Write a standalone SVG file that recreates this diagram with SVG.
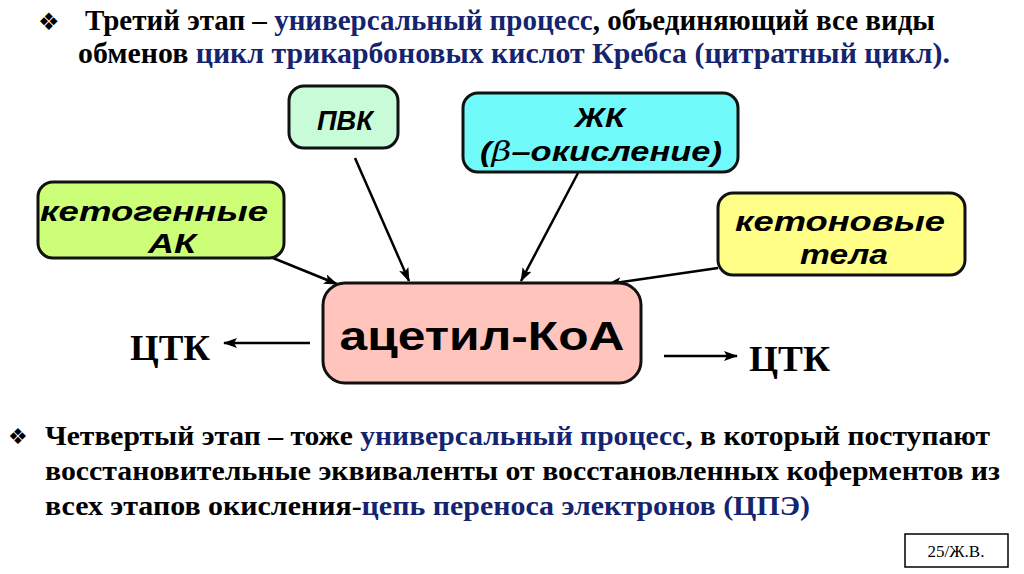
<svg xmlns="http://www.w3.org/2000/svg" width="1024" height="574" viewBox="0 0 1024 574">
<style>
.t{font-family:"Liberation Serif","Times New Roman","DejaVu Serif",serif;font-weight:bold;fill:#000}
.b{fill:#14246e}
.n{font-family:"Liberation Sans",Arial,sans-serif;font-weight:bold;font-style:italic;fill:#000;text-anchor:middle}
.box{stroke:#111;stroke-width:3}
.c{stroke:#000;stroke-width:2.5;fill:none}
.bul{font-family:"DejaVu Sans",sans-serif;fill:#000}
</style>
<defs>
<marker id="ah" viewBox="0 0 14 10" refX="13" refY="5" markerWidth="14" markerHeight="10" markerUnits="userSpaceOnUse" orient="auto">
<path d="M0,0 L14,5 L0,10 L3,5 z" fill="#000"/>
</marker>
</defs>
<rect width="1024" height="574" fill="#fff"/>

<g id="header">
<text class="bul" x="38" y="30" font-size="24">❖</text>
<text class="t" x="85" y="30" font-size="29" textLength="850" lengthAdjust="spacingAndGlyphs">Третий этап – <tspan class="b">универсальный процесс</tspan>, объединяющий все виды</text>
<text class="t" x="78" y="63" font-size="29" textLength="872" lengthAdjust="spacingAndGlyphs">обменов <tspan class="b">цикл трикарбоновых кислот Кребса (цитратный цикл).</tspan></text>
</g>

<g id="connectors">
<line class="c" x1="273" y1="258" x2="337" y2="284" marker-end="url(#ah)"/>
<line class="c" x1="355" y1="158" x2="409" y2="281" marker-end="url(#ah)"/>
<line class="c" x1="578" y1="173" x2="521" y2="281" marker-end="url(#ah)"/>
<line class="c" x1="718" y1="268" x2="608" y2="284" marker-end="url(#ah)"/>
<line class="c" x1="310" y1="343" x2="224" y2="343" marker-end="url(#ah)"/>
<line class="c" x1="664" y1="356" x2="737" y2="356" marker-end="url(#ah)"/>
</g>

<g id="node-pvk">
<rect class="box" x="289" y="86" width="109" height="62" rx="15" fill="#c8fcd8"/>
<text class="n" x="345" y="130" font-size="28" textLength="56" lengthAdjust="spacingAndGlyphs">ПВК</text>
</g>

<g id="node-zhk">
<rect class="box" x="463" y="93" width="275" height="79" rx="15" fill="#70fafa"/>
<text class="n" x="600" y="127" font-size="27" textLength="50" lengthAdjust="spacingAndGlyphs">ЖК</text>
<text class="n" x="601" y="161" font-size="27" textLength="242" lengthAdjust="spacingAndGlyphs">(<tspan font-family="'DejaVu Serif',serif" font-weight="normal">β</tspan>–окисление)</text>
</g>

<g id="node-ketogen">
<rect class="box" x="38" y="182" width="246" height="76" rx="15" fill="#ccff77"/>
<text class="n" x="154" y="221" font-size="28" textLength="228" lengthAdjust="spacingAndGlyphs">кетогенные</text>
<text class="n" x="172" y="253" font-size="28" textLength="48" lengthAdjust="spacingAndGlyphs">АК</text>
</g>

<g id="node-keton">
<rect class="box" x="718" y="193" width="247" height="82" rx="15" fill="#ffff88"/>
<text class="n" x="840" y="231" font-size="28" textLength="210" lengthAdjust="spacingAndGlyphs">кетоновые</text>
<text class="n" x="844" y="264" font-size="28" textLength="88" lengthAdjust="spacingAndGlyphs">тела</text>
</g>

<g id="node-acetyl">
<rect class="box" x="323" y="283" width="318" height="100" rx="22" fill="#ffc4bc"/>
<text x="482" y="350" font-family="'Liberation Sans',Arial,sans-serif" font-weight="bold" font-size="41" text-anchor="middle" fill="#000" textLength="285" lengthAdjust="spacingAndGlyphs">ацетил-КоА</text>
</g>

<g id="ctk-left">
<text class="t" x="130" y="360" font-size="36" textLength="80" lengthAdjust="spacingAndGlyphs">ЦТК</text>
</g>
<g id="ctk-right">
<text class="t" x="749" y="371" font-size="36" textLength="81" lengthAdjust="spacingAndGlyphs">ЦТК</text>
</g>

<g id="footer-text">
<text class="bul" x="8" y="444" font-size="22">❖</text>
<text class="t" x="45" y="445" font-size="27" textLength="945" lengthAdjust="spacingAndGlyphs">Четвертый этап – тоже <tspan class="b">универсальный процесс</tspan>, в который поступают</text>
<text class="t" x="45" y="480" font-size="27" textLength="955" lengthAdjust="spacingAndGlyphs">восстановительные эквиваленты от восстановленных коферментов из</text>
<text class="t" x="45" y="515" font-size="27" textLength="765" lengthAdjust="spacingAndGlyphs">всех этапов окисления-<tspan class="b">цепь переноса электронов (ЦПЭ)</tspan></text>
</g>

<g id="page-label">
<rect x="905" y="534" width="103" height="33" fill="#fff" stroke="#000" stroke-width="1.5"/>
<text x="956" y="557" font-family="'Liberation Serif','Times New Roman',serif" font-size="17" text-anchor="middle" fill="#000">25/Ж.В.</text>
</g>
</svg>
